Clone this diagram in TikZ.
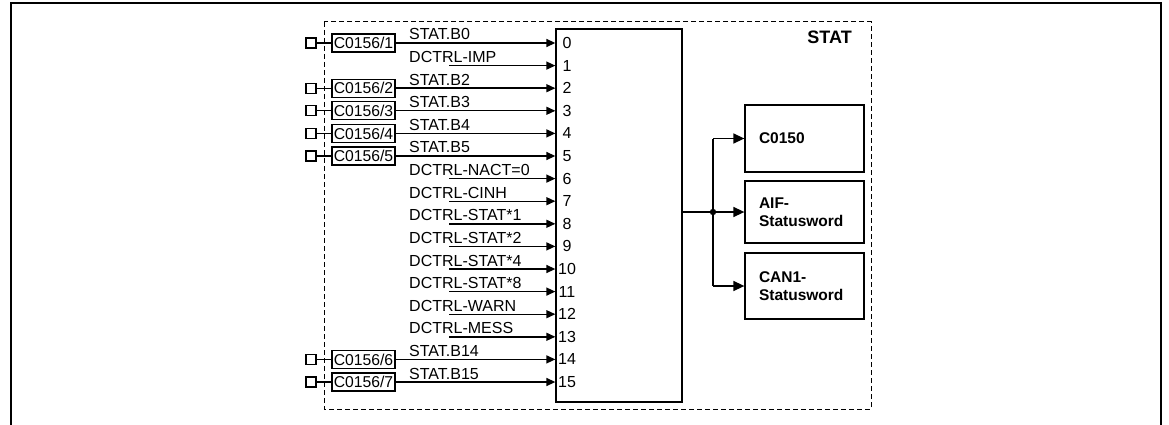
\documentclass[tikz,border=0pt]{standalone}
\usepackage{fontspec}
\setmainfont{Liberation Sans}
\usetikzlibrary{arrows.meta}
\tikzset{
  sig/.style={line width=1.4pt, -{Triangle[length=9pt,width=8pt]}},
  bus/.style={line width=1.4pt},
  busarr/.style={line width=1.4pt, -{Triangle[length=11pt,width=10pt]}},
  lbl/.style={font=\fontsize{16}{18}\selectfont, inner sep=0pt},
  pbox/.style={draw, line width=1.1pt, inner sep=0pt, minimum width=63pt, minimum height=18pt, font=\fontsize{15.7}{18}\selectfont},
  term/.style={draw, line width=1.1pt, inner sep=0pt, minimum size=10pt},
  outbox/.style={draw, line width=1.3pt, inner xsep=14pt, inner ysep=0pt, text width=91pt, align=left, font=\bfseries\fontsize{15.5}{18.5}\selectfont},
  frame/.style={line width=2.4pt},
  dbox/.style={line width=1pt, dash pattern=on 5pt off 3pt},
}
\begin{document}
\begin{tikzpicture}[x=1pt,y=-1pt]
\useasboundingbox (0,0) rectangle (1169,425);
% outer frame
\draw[frame] (11,425) -- (11,3) -- (1161,3) -- (1161,425);
% dashed function block
\draw[dbox] (324,22) rectangle (871,409);
\node[font=\bfseries\fontsize{18}{20}\selectfont, inner sep=0pt, anchor=base east] (title) at (852,44) {STAT};
% main block
\node[draw, line width=1.3pt, minimum width=126pt, minimum height=373pt, inner sep=0pt] (blk) at (619,215.5) {};
% input numbers
\foreach \i in {0,...,15}{
  \pgfmathsetmacro\yy{43+22.6*\i}
  \node[lbl] (n\i) at (567,\yy) {\i};
}
% inputs with code parameters
\foreach \i/\lab/\k in {0/STAT.B0/1, 2/STAT.B2/2, 3/STAT.B3/3, 4/STAT.B4/4, 5/STAT.B5/5, 14/STAT.B14/6, 15/STAT.B15/7}{
  \pgfmathsetmacro\yy{43+22.6*\i}
  \node[term] (q\i) at (311,\yy) {};
  \node[pbox] (c\i) at (363.5,\yy) {C0156/\k};
  \draw[line width=1.1pt] (q\i.east) -- (c\i.west);
  \draw[sig] (c\i.east) -- (c\i.east -| blk.west);
  \pgfmathsetmacro\yl{\yy-3}
  \node[lbl, anchor=base west] (l\i) at (409,\yl) {\lab};
}
% internal DCTRL inputs
\foreach \i/\lab in {1/DCTRL-IMP, 6/DCTRL-NACT=0, 7/DCTRL-CINH, 8/DCTRL-STAT*1, 9/DCTRL-STAT*2, 10/DCTRL-STAT*4, 11/DCTRL-STAT*8, 12/DCTRL-WARN, 13/DCTRL-MESS}{
  \pgfmathsetmacro\yy{43+22.6*\i}
  \coordinate (s\i) at (449,\yy);
  \draw[sig] (s\i) -- (s\i -| blk.west);
  \pgfmathsetmacro\yl{\yy-3}
  \node[lbl, anchor=base west] (l\i) at (409,\yl) {\lab};
}
% output boxes
\node[outbox, minimum height=67pt] (b1) at (804.5,138.5) {C0150};
\node[outbox, minimum height=62pt] (b2) at (804.5,212) {AIF-\\Statusword};
\node[outbox, minimum height=66pt] (b3) at (804.5,286) {CAN1-\\Statusword};
% output bus
\coordinate (jn) at (713,212);
\draw[bus] (blk.east |- jn) -- (jn);
\draw[bus] (jn |- b1.west) -- (jn |- b3.west);
\draw[busarr] (jn |- b1.west) -- (b1.west);
\draw[busarr] (jn) -- (b2.west);
\draw[busarr] (jn |- b3.west) -- (b3.west);
\fill (jn) circle (3.2pt);
\end{tikzpicture}
\end{document}
